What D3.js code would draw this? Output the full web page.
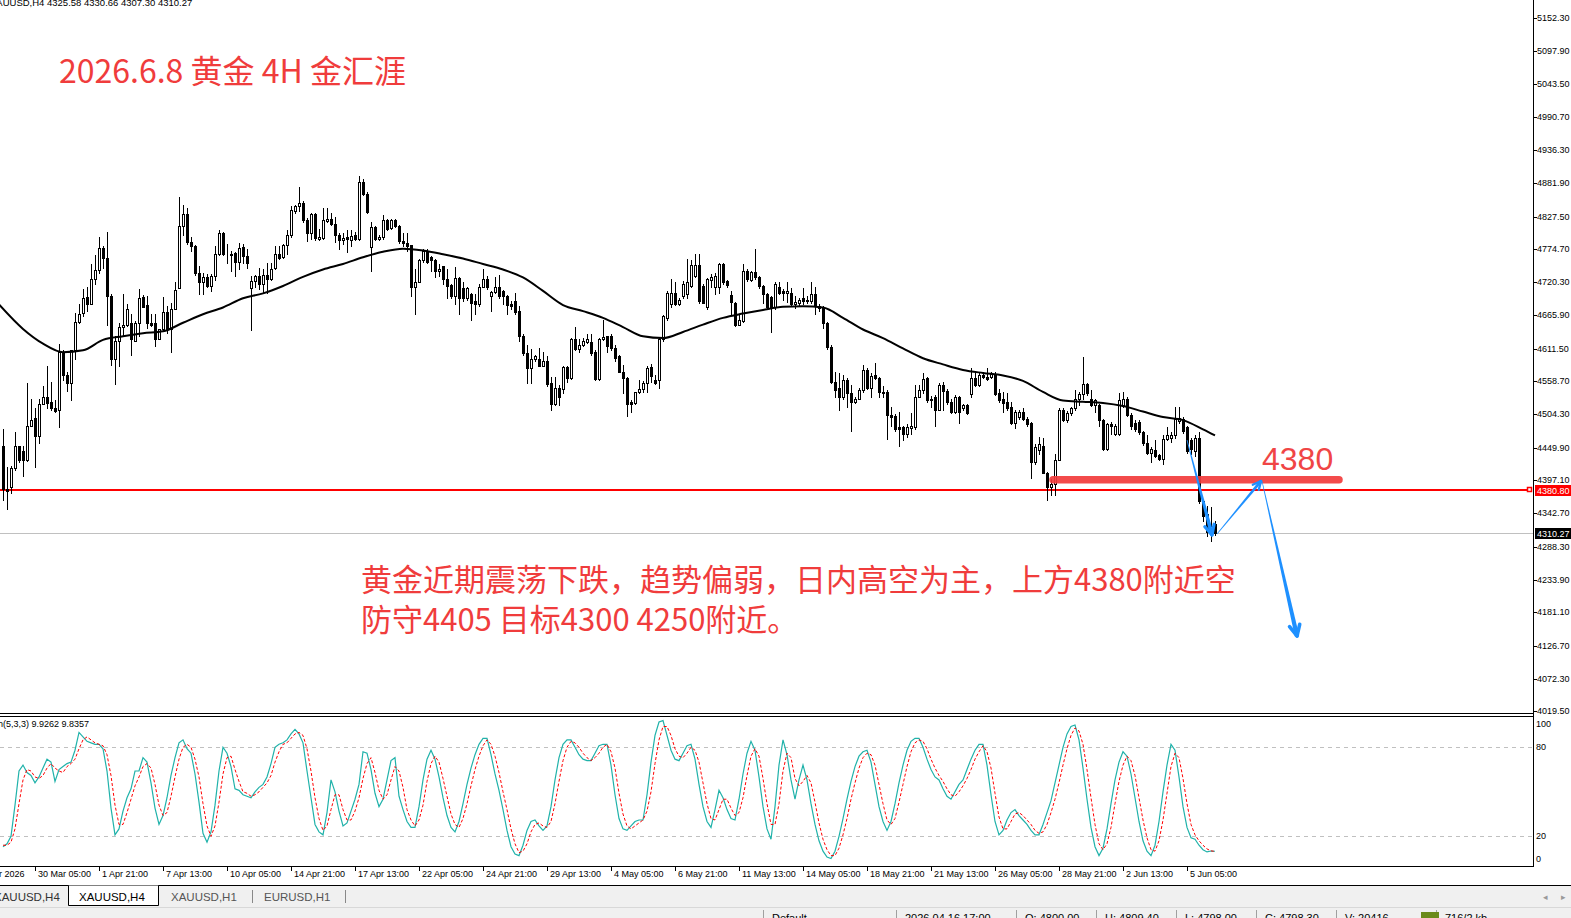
<!DOCTYPE html>
<meta charset="utf-8">
<title>XAUUSD,H4</title>
<style>
  body { margin: 0; background: #fff; }
  svg { display: block; }
</style>
<div id="chart"></div>
<script src="https://cdnjs.cloudflare.com/ajax/libs/d3/7.8.5/d3.min.js"></script>
<script>

// candles, one per 4H bar
var opens = [
4452,4382,4386,4417,4453,4445,4430,4486,4499,4469,
4522,4532,4524,4515,4512,4606,4568,4555,4609,4656,
4670,4696,4684,4725,4740,4776,4759,4698,4595,4624,
4647,4650,4654,4625,4654,4696,4683,4654,4653,4628,
4644,4672,4644,4677,4710,4812,4831,4786,4779,4735,
4721,4728,4714,4731,4766,4801,4766,4766,4768,4753,
4777,4763,4710,4723,4731,4717,4732,4725,4744,4767,
4761,4781,4797,4836,4844,4850,4822,4800,4831,4791,
4792,4820,4824,4816,4798,4790,4794,4790,4797,4791,
4884,4864,4778,4811,4791,4794,4822,4809,4822,4812,
4787,4785,4781,4712,4721,4756,4772,4761,4756,4739,
4746,4725,4716,4698,4727,4710,4695,4701,4690,4684,
4713,4725,4698,4705,4712,4706,4698,4684,4690,4673,
4632,4605,4580,4595,4595,4584,4592,4555,4522,4547,
4545,4581,4563,4627,4611,4618,4622,4622,4607,4562,
4627,4632,4633,4613,4600,4574,4563,4524,4523,4541,
4545,4556,4581,4561,4561,4627,4662,4684,4703,4684,
4698,4701,4714,4731,4748,4714,4679,4724,4712,4712,
4750,4723,4700,4687,4651,4657,4739,4724,4737,4728,
4714,4701,4696,4679,4713,4706,4703,4703,4684,4687,
4694,4691,4690,4701,4681,4680,4654,4614,4558,4547,
4533,4561,4539,4525,4530,4544,4577,4547,4568,4563,
4541,4541,4504,4501,4484,4484,4473,4482,4483,4532,
4544,4563,4528,4533,4512,4552,4543,4525,4508,4533,
4514,4519,4537,4563,4552,4569,4566,4565,4570,4540,
4529,4525,4517,4490,4500,4508,4497,4490,4426,4446,
4452,4409,4385,4390,4430,4511,4495,4506,4514,4529,
4537,4554,4529,4519,4519,4495,4448,4488,4473,4473,
4518,4530,4503,4490,4492,4475,4457,4442,4446,4438,
4431,4464,4466,4470,4494,4497,4483,4462,4445,4466,
4363,4341,4312,4325.58];
var highs = [
4481,4418,4420,4475,4453,4453,4555,4529,4514,4529,
4551,4583,4558,4528,4620,4610,4574,4610,4670,4684,
4709,4712,4750,4765,4794,4780,4803,4701,4632,4654,
4701,4684,4668,4657,4709,4699,4698,4668,4668,4644,
4696,4681,4687,4720,4860,4847,4842,4794,4781,4746,
4735,4734,4734,4780,4805,4802,4783,4772,4769,4785,
4783,4775,4730,4732,4743,4742,4752,4752,4779,4780,
4783,4805,4844,4847,4875,4853,4825,4833,4833,4808,
4841,4841,4833,4827,4800,4800,4805,4805,4802,4893,
4889,4867,4819,4812,4797,4830,4823,4823,4824,4813,
4800,4800,4781,4742,4758,4775,4775,4763,4758,4750,
4747,4742,4717,4745,4728,4720,4712,4702,4701,4717,
4742,4730,4706,4728,4732,4707,4699,4690,4703,4681,
4635,4618,4611,4602,4613,4607,4600,4566,4566,4552,
4584,4584,4629,4647,4628,4629,4636,4636,4610,4629,
4659,4633,4636,4618,4602,4585,4565,4528,4541,4561,
4559,4584,4587,4569,4629,4666,4706,4725,4720,4695,
4723,4758,4756,4767,4767,4717,4727,4734,4736,4752,
4752,4724,4706,4688,4668,4750,4742,4739,4775,4731,
4716,4703,4698,4720,4720,4709,4720,4710,4697,4695,
4710,4698,4720,4712,4684,4681,4655,4618,4574,4572,
4569,4563,4552,4533,4547,4585,4580,4572,4589,4565,
4550,4544,4517,4505,4508,4486,4489,4506,4552,4552,
4572,4566,4534,4536,4555,4558,4545,4530,4536,4534,
4521,4521,4580,4574,4572,4574,4580,4574,4573,4545,
4541,4539,4525,4511,4511,4515,4500,4492,4456,4467,
4466,4411,4398,4440,4515,4514,4510,4517,4544,4541,
4598,4555,4544,4530,4521,4497,4490,4492,4489,4540,
4541,4532,4506,4495,4495,4478,4470,4451,4462,4440,
4470,4484,4475,4516,4517,4500,4486,4466,4470,4475,
4366,4354,4353,4330.66];
var lows = [
4365,4349,4376,4414,4426,4403,4428,4486,4418,4457,
4522,4514,4511,4508,4483,4561,4543,4528,4595,4654,
4665,4673,4684,4717,4736,4743,4651,4585,4554,4583,
4632,4648,4602,4624,4632,4679,4646,4648,4616,4627,
4643,4638,4607,4676,4710,4797,4783,4772,4732,4701,
4701,4713,4706,4724,4765,4765,4752,4739,4731,4742,
4752,4743,4643,4712,4709,4703,4703,4724,4742,4758,
4759,4767,4794,4833,4836,4819,4787,4791,4789,4790,
4791,4819,4813,4786,4775,4783,4769,4779,4790,4789,
4863,4833,4739,4789,4790,4791,4805,4807,4811,4785,
4779,4772,4698,4668,4720,4753,4752,4739,4728,4731,
4717,4695,4695,4684,4668,4690,4692,4659,4668,4681,
4712,4709,4673,4702,4695,4684,4668,4676,4669,4624,
4602,4555,4555,4591,4583,4583,4551,4511,4519,4519,
4539,4558,4562,4610,4607,4616,4621,4602,4561,4560,
4626,4607,4610,4592,4573,4539,4501,4508,4521,4539,
4541,4541,4558,4554,4547,4625,4659,4680,4683,4683,
4695,4695,4712,4728,4687,4686,4677,4712,4701,4703,
4717,4713,4668,4648,4650,4655,4723,4723,4725,4710,
4687,4677,4639,4677,4701,4692,4688,4681,4678,4681,
4684,4686,4687,4668,4673,4646,4611,4556,4533,4512,
4530,4517,4478,4523,4529,4541,4545,4533,4562,4533,
4532,4464,4486,4478,4453,4462,4467,4473,4481,4532,
4539,4525,4517,4486,4511,4511,4522,4506,4507,4490,
4511,4505,4533,4551,4551,4563,4561,4563,4536,4525,
4508,4511,4488,4482,4497,4495,4486,4401,4423,4440,
4408,4365,4373,4373,4429,4493,4492,4503,4512,4519,
4529,4536,4518,4508,4486,4446,4446,4473,4470,4470,
4517,4501,4481,4478,4473,4455,4440,4426,4435,4429,
4423,4463,4460,4466,4490,4474,4442,4440,4437,4360,
4330,4305,4297,4307.30];
var closes = [
4382,4379,4417,4453,4429,4429,4486,4495,4469,4522,
4532,4523,4515,4510,4606,4568,4555,4609,4656,4669,
4694,4684,4725,4740,4776,4759,4698,4595,4624,4647,
4650,4677,4627,4654,4695,4680,4653,4650,4628,4644,
4672,4644,4677,4707,4812,4831,4786,4779,4735,4720,
4728,4714,4731,4766,4801,4766,4767,4765,4753,4776,
4763,4752,4723,4731,4717,4732,4725,4742,4767,4759,
4781,4797,4838,4844,4850,4822,4801,4831,4792,4794,
4822,4824,4816,4797,4790,4792,4791,4796,4791,4884,
4864,4835,4811,4791,4794,4822,4808,4822,4812,4787,
4785,4779,4712,4721,4756,4772,4754,4756,4739,4742,
4725,4714,4698,4727,4695,4695,4710,4687,4684,4713,
4725,4712,4705,4713,4698,4697,4683,4681,4672,4632,
4605,4580,4595,4599,4584,4592,4554,4522,4547,4533,
4581,4563,4627,4611,4618,4624,4628,4605,4562,4627,
4631,4616,4613,4596,4574,4563,4522,4522,4541,4545,
4556,4580,4567,4556,4627,4665,4703,4703,4684,4692,
4717,4720,4748,4748,4690,4687,4725,4728,4731,4750,
4720,4716,4688,4651,4659,4739,4725,4737,4728,4714,
4701,4679,4679,4717,4703,4703,4706,4684,4688,4691,
4690,4690,4701,4681,4678,4653,4614,4558,4544,4533,
4561,4539,4525,4530,4544,4577,4547,4567,4563,4541,
4539,4504,4500,4481,4481,4473,4484,4485,4533,4544,
4562,4528,4530,4512,4552,4543,4525,4508,4533,4508,
4519,4506,4563,4552,4569,4566,4562,4570,4537,4528,
4523,4514,4490,4508,4508,4497,4489,4426,4451,4456,
4409,4386,4391,4430,4511,4495,4507,4514,4530,4537,
4554,4539,4519,4528,4495,4448,4488,4485,4486,4528,
4530,4503,4485,4481,4475,4457,4442,4448,4437,4431,
4464,4470,4470,4496,4498,4477,4445,4448,4466,4363,
4338,4312,4322,4310.27];

// moving average, read every 5 bars
var maIdx = [-1,5,10,15,20,25,30,35,40,45,50,55,60,65,70,75,80,85,90,95,
  100,105,110,115,120,125,130,135,140,145,150,155,160,165,170,175,180,185,190,195,
  200,205,210,215,220,225,230,235,240,245,250,255,260,265,270,275,280,285,290,295,300,303];
var maVal = [4684,4644,4620,4606,4609,4626,4632,4637,4640,4654,
  4668,4679,4694,4702,4714,4729,4741,4750,4761,4770,
  4775,4772,4766,4759,4750,4741,4728,4706,4683,4673,
  4662,4647,4632,4629,4639,4651,4662,4669,4675,4680,
  4681,4679,4662,4643,4629,4612,4596,4586,4577,4572,
  4568,4559,4541,4527,4525,4523,4518,4509,4500,4495,4480,4470];

// Stoch(5,3,3): main line and signal line, one value per bar
var stochK = [
13,15,20,41,64,68,63,61,56,60, 66,72,70,57,65,67,69,70,78,90,
87,84,83,82,82,79,64,39,21,25, 37,46,52,64,64,73,70,56,39,28,
34,46,61,73,83,85,79,76,62,43, 22,16,23,41,64,80,76,67,52,51,
48,47,46,50,53,55,60,69,80,82, 83,85,89,92,89,83,64,46,28,23,
21,36,58,50,37,27,29,37,45,55, 77,76,65,49,40,45,58,71,73,47,
38,30,26,26,40,58,72,78,72,60, 46,34,26,23,30,42,55,66,75,82,
86,86,75,62,51,38,24,13,8,7, 14,24,30,31,27,24,27,40,58,73,
82,85,85,80,75,72,71,71,76,81, 82,82,68,48,32,25,24,27,30,31,
31,48,70,88,97,98,88,78,72,71, 76,81,82,72,55,40,30,26,38,51,
46,38,32,31,45,62,76,84,78,60, 40,25,18,40,68,85,75,58,45,58,
68,58,42,28,17,10,6,5,10,20, 32,45,57,67,74,77,78,70,55,40,
30,24,30,42,56,68,78,84,86,86, 80,72,65,60,58,52,47,45,50,55,
58,65,72,78,82,82,68,48,30,21, 24,31,36,38,34,31,28,24,21,21,
28,36,44,56,68,80,89,94,95,85, 66,45,26,13,7,12,25,42,58,70,
77,74,62,46,30,17,10,7,14,30, 50,68,82,78,60,40,26,19,18,14,
11,9.5,10.1,9.9262];
var stochD = [
14,14,16,25,42,58,65,64,60,59, 61,66,69,66,64,63,67,69,72,79,
85,87,85,83,82,81,75,61,41,28, 28,36,45,54,60,67,69,66,55,41,
34,36,47,60,72,80,82,80,72,60, 42,27,20,27,43,62,73,74,65,57,
50,49,47,48,50,53,56,61,70,77, 82,83,86,89,90,88,79,64,46,32,
24,27,38,48,48,38,31,31,37,46, 59,69,73,63,51,45,48,58,67,64,
53,38,31,27,31,41,57,69,74,70, 59,47,35,28,26,32,42,54,65,74,
81,85,82,74,63,50,38,25,15,9, 10,15,23,28,29,27,26,30,42,57,
71,80,84,83,80,76,73,71,73,76, 80,82,77,66,49,35,27,25,27,29,
31,37,50,69,85,94,94,88,79,74, 73,76,80,78,70,56,42,32,31,38,
45,45,39,34,36,46,61,74,79,74, 59,42,28,28,42,64,76,73,59,54,
57,61,56,43,29,18,11,7,7,12, 21,32,45,56,66,73,76,75,68,55,
42,31,28,32,43,55,67,77,83,85, 84,79,72,66,61,57,52,48,47,50,
54,59,65,72,77,81,77,66,49,33, 25,25,30,35,36,34,31,28,24,22,
23,28,36,45,56,68,79,88,93,91, 82,65,46,28,15,11,15,26,42,57,
68,74,71,61,46,31,19,11,10,17, 31,49,67,76,73,59,42,28,21,17,
14,11.5,10.2,9.8357];

var priceTicks = [5152.30,5097.90,5043.50,4990.70,4936.30,4881.90,4827.50,4774.70,4720.30,4665.90,
  4611.50,4558.70,4504.30,4449.90,4397.10,4342.70,4288.30,4233.90,4181.10,4126.70,4072.30,4019.50];
var stochTicks = [100, 80, 20, 0];
var dateIdx = [-8,8,24,40,56,72,88,104,120,136,152,168,184,200,216,232,248,264,280,296];
var dateLabels = ["26 Mar 2026","30 Mar 05:00","1 Apr 21:00","7 Apr 13:00","10 Apr 05:00","14 Apr 21:00",
  "17 Apr 13:00","22 Apr 05:00","24 Apr 21:00","29 Apr 13:00","4 May 05:00","6 May 21:00","11 May 13:00",
  "14 May 05:00","18 May 21:00","21 May 13:00","26 May 05:00","28 May 21:00","2 Jun 13:00","5 Jun 05:00"];

var lineLevel = 4380.80;
var bidPrice = 4310.27;
var zoneLevel = 4397.5;
var zoneFrom = 261.5, zoneTo = 335;
// [from, to, start width, end width, head length]
var arrows = [
  [[296, 4462.5], [302.25, 4307.3], 0.8, 4, 11],
  [[303.5, 4309], [314.5, 4395.5], 0.6, 3, 9],
  [[314.75, 4395.5], [323.5, 4142.3], 0.6, 4.5, 12]
];

var width = 1571, height = 918;
var axisX = 1533;
var mainTop = 0, mainBottom = 713;
var subTop = 716, subBottom = 866;

var svg = d3.select("#chart").append("svg")
  .attr("width", width)
  .attr("height", height)
  .style("font-family", "'Liberation Sans', Arial, sans-serif");

svg.append("rect").attr("width", width).attr("height", height).attr("fill", "#fff");

var x = d3.scaleLinear().domain([0, 303]).range([3, 1215]);
var y = d3.scaleLinear().domain([4016.5, 5181.3]).range([mainBottom, mainTop]);
var ys = d3.scaleLinear().domain([0, 100]).range([subBottom, 717.6]);

var px = function(i) { return Math.round(x(i)); };

var main = svg.append("g");

// level lines
main.append("line")
  .attr("x1", 0).attr("x2", axisX).attr("y1", Math.round(y(bidPrice)) + 0.5).attr("y2", Math.round(y(bidPrice)) + 0.5)
  .attr("stroke", "#c0c0c0").attr("stroke-width", 1);
main.append("line")
  .attr("x1", 0).attr("x2", axisX - 4).attr("y1", Math.round(y(lineLevel))).attr("y2", Math.round(y(lineLevel)))
  .attr("stroke", "#ff0000").attr("stroke-width", 2);
main.append("rect")
  .attr("x", axisX - 5.5).attr("y", Math.round(y(lineLevel)) - 2.5).attr("width", 4).attr("height", 4)
  .attr("fill", "#fff").attr("stroke", "#ff0000").attr("stroke-width", 1.5);

// candles
var idx = d3.range(opens.length);
var cg = main.append("g").attr("shape-rendering", "crispEdges");
cg.selectAll("line.wick").data(idx).join("line")
  .attr("x1", function(i) { return px(i) + 0.5; })
  .attr("x2", function(i) { return px(i) + 0.5; })
  .attr("y1", function(i) { return Math.round(y(highs[i])); })
  .attr("y2", function(i) { return Math.round(y(lows[i])) + 1; })
  .attr("stroke", "#000");
cg.selectAll("rect.body").data(idx).join("rect")
  .attr("x", function(i) { return px(i) - 0.5; })
  .attr("y", function(i) { return Math.round(y(Math.max(opens[i], closes[i]))) + 0.5; })
  .attr("width", 2)
  .attr("height", function(i) {
    return Math.max(0, Math.round(y(Math.min(opens[i], closes[i]))) - Math.round(y(Math.max(opens[i], closes[i]))));
  })
  .attr("fill", function(i) { return closes[i] >= opens[i] ? "#fff" : "#000"; })
  .attr("stroke", "#000");

// moving average
var maLine = d3.line()
  .x(function(d, k) { return x(maIdx[k]); })
  .y(function(d) { return y(d); })
  .curve(d3.curveMonotoneX);
main.append("path").attr("d", maLine(maVal))
  .attr("fill", "none").attr("stroke", "#000").attr("stroke-width", 2);

// hand drawn zone and arrows
main.append("line")
  .attr("x1", x(zoneFrom) + 4).attr("x2", x(zoneTo) - 4)
  .attr("y1", y(zoneLevel)).attr("y2", y(zoneLevel))
  .attr("stroke", "#f23c3c").attr("stroke-opacity", 0.92)
  .attr("stroke-width", 7.5).attr("stroke-linecap", "round");

function arrow(a) {
  var x0 = x(a[0][0]), y0 = y(a[0][1]), x1 = x(a[1][0]), y1 = y(a[1][1]);
  var w0 = a[2], w1 = a[3], head = a[4];
  var dx = x1 - x0, dy = y1 - y0, len = Math.sqrt(dx * dx + dy * dy);
  var ux = dx / len, uy = dy / len, nx = -uy, ny = ux;
  var pts = [
    [x0 + nx * w0 / 2, y0 + ny * w0 / 2],
    [x1 + nx * w1 / 2, y1 + ny * w1 / 2],
    [x1 - nx * w1 / 2, y1 - ny * w1 / 2],
    [x0 - nx * w0 / 2, y0 - ny * w0 / 2]
  ];
  main.append("polygon").attr("points", pts.map(function(p) { return p.join(","); }).join(" "))
    .attr("fill", "#1e90ff");
  var ang = 0.45;
  [ang, -ang].forEach(function(t) {
    var bx = -(ux * Math.cos(t) - uy * Math.sin(t)), by = -(ux * Math.sin(t) + uy * Math.cos(t));
    main.append("line")
      .attr("x1", x1).attr("y1", y1)
      .attr("x2", x1 + bx * head).attr("y2", y1 + by * head)
      .attr("stroke", "#1e90ff").attr("stroke-width", w1 * 0.8).attr("stroke-linecap", "round");
  });
}
arrows.forEach(arrow);

// texts on chart
main.append("text").attr("x", -10).attr("y", 6)
  .attr("font-size", 9.5).attr("fill", "#000")
  .text("XAUUSD,H4  4325.58 4330.66 4307.30 4310.27");
main.append("text").attr("x", 59).attr("y", 83)
  .attr("font-family", "'Noto Sans CJK SC', sans-serif")
  .attr("font-size", 32).attr("fill", "#f03c3c")
  .text("2026.6.8 黄金 4H 金汇涯");
main.append("text").attr("x", x(314.75)).attr("y", y(4414))
  .attr("font-size", 32).attr("fill", "#f04545")
  .text("4380");
var note = main.append("g")
  .attr("font-family", "'Noto Sans CJK SC', sans-serif")
  .attr("font-size", 31).attr("fill", "#f03c3c");
note.append("text").attr("x", 361).attr("y", 591)
  .text("黄金近期震荡下跌，趋势偏弱，日内高空为主，上方4380附近空");
note.append("text").attr("x", 361).attr("y", 631)
  .text("防守4405 目标4300 4250附近。");

// frames
var fr = svg.append("g").attr("stroke", "#000").attr("shape-rendering", "crispEdges");
fr.append("line").attr("x1", 0).attr("x2", axisX).attr("y1", mainBottom + 0.5).attr("y2", mainBottom + 0.5);
fr.append("line").attr("x1", 0).attr("x2", axisX).attr("y1", subTop + 0.5).attr("y2", subTop + 0.5);
fr.append("line").attr("x1", 0).attr("x2", axisX).attr("y1", subBottom + 0.5).attr("y2", subBottom + 0.5);
fr.append("line").attr("x1", axisX + 0.5).attr("x2", axisX + 0.5).attr("y1", 0).attr("y2", subBottom + 1);

// price axis
var pa = svg.append("g");
pa.selectAll("line").data(priceTicks).join("line")
  .attr("x1", axisX).attr("x2", axisX + 4)
  .attr("y1", function(d) { return Math.round(y(d)) + 0.5; })
  .attr("y2", function(d) { return Math.round(y(d)) + 0.5; })
  .attr("stroke", "#000").attr("shape-rendering", "crispEdges");
pa.selectAll("text").data(priceTicks).join("text")
  .attr("x", axisX + 4).attr("y", function(d) { return y(d) + 3; })
  .attr("font-size", 9).attr("fill", "#000")
  .text(function(d) { return d.toFixed(2); });

function priceBox(p, bg) {
  var yy = Math.round(y(p));
  pa.append("rect").attr("x", axisX + 2).attr("y", yy - 5).attr("width", 40).attr("height", 11).attr("fill", bg);
  pa.append("text").attr("x", axisX + 4).attr("y", yy + 4).attr("font-size", 9).attr("fill", "#fff")
    .text(p.toFixed(2));
}
priceBox(lineLevel, "#ff0000");
priceBox(bidPrice, "#000");

// stochastic window
var sg = svg.append("g");
[80, 20].forEach(function(v) {
  sg.append("line").attr("x1", 0).attr("x2", axisX)
    .attr("y1", Math.round(ys(v)) + 0.5).attr("y2", Math.round(ys(v)) + 0.5)
    .attr("stroke", "#c0c0c0").attr("stroke-dasharray", "4,4");
});
sg.selectAll("text.st").data(stochTicks).join("text")
  .attr("x", axisX + 3)
  .attr("y", function(d) { return d == 100 ? ys(d) + 9 : d == 0 ? ys(d) - 4 : ys(d) + 3; })
  .attr("font-size", 9).attr("fill", "#000")
  .text(function(d) { return d; });

var sLine = d3.line().x(function(d, k) { return x(k); }).y(function(d) { return ys(d); });
sg.append("path").attr("d", sLine(stochK)).attr("fill", "none").attr("stroke", "#20b2aa").attr("stroke-width", 1.2);
sg.append("path").attr("d", sLine(stochD)).attr("fill", "none").attr("stroke", "#ff0000")
  .attr("stroke-width", 1).attr("stroke-dasharray", "3,2");
sg.append("text").attr("x", -20).attr("y", 727).attr("font-size", 9).attr("fill", "#000")
  .text("Stoch(5,3,3) 9.9262 9.8357");

// time axis
var ta = svg.append("g");
ta.selectAll("line").data(dateIdx).join("line")
  .attr("x1", function(i) { return px(i) + 0.5; }).attr("x2", function(i) { return px(i) + 0.5; })
  .attr("y1", subBottom).attr("y2", subBottom + 5)
  .attr("stroke", "#000").attr("shape-rendering", "crispEdges");
ta.selectAll("text").data(dateIdx).join("text")
  .attr("x", function(i) { return px(i) + 3; }).attr("y", 877)
  .attr("font-size", 9).attr("fill", "#000")
  .text(function(i, k) { return dateLabels[k]; });

// tab bar and status bar
var tb = svg.append("g");
tb.append("rect").attr("x", 0).attr("y", 885).attr("width", width).attr("height", 33).attr("fill", "#f0f0f0");
tb.append("line").attr("x1", 0).attr("x2", width).attr("y1", 885.5).attr("y2", 885.5).attr("stroke", "#000");
tb.append("line").attr("x1", 0).attr("x2", width).attr("y1", 907.5).attr("y2", 907.5).attr("stroke", "#d8d8d8");
tb.append("path").attr("d", "M68.5,885.5V905.5H158.5V885.5").attr("fill", "#fff").attr("stroke", "#000");
var tabs = [["XAUUSD,H4", -6, "#333"], ["XAUUSD,H4", 79, "#000"], ["XAUUSD,H1", 171, "#555"], ["EURUSD,H1", 264, "#555"]];
tabs.forEach(function(t) {
  tb.append("text").attr("x", t[1]).attr("y", 901).attr("font-size", 11.5).attr("fill", t[2]).text(t[0]);
});
[252.5, 345.5].forEach(function(s) {
  tb.append("line").attr("x1", s).attr("x2", s).attr("y1", 890).attr("y2", 903).attr("stroke", "#888");
});
tb.append("text").attr("x", 1543).attr("y", 900).attr("font-size", 9).attr("fill", "#999").text("◂");
tb.append("text").attr("x", 1561).attr("y", 900).attr("font-size", 9).attr("fill", "#999").text("▸");
var statusItems = [["Default", 772], ["2026.04.16 17:00", 905], ["O: 4800.00", 1025], ["H: 4809.40", 1105],
  ["L: 4798.00", 1185], ["C: 4798.30", 1265], ["V: 20416", 1345], ["716/2 kb", 1445]];
statusItems.forEach(function(s) {
  tb.append("text").attr("x", s[1]).attr("y", 922).attr("font-size", 11).attr("fill", "#000").text(s[0]);
  tb.append("line").attr("x1", s[1] - 8.5).attr("x2", s[1] - 8.5).attr("y1", 910).attr("y2", 918).attr("stroke", "#a0a0a0");
});
tb.append("rect").attr("x", 1421).attr("y", 912).attr("width", 18).attr("height", 6).attr("fill", "#6a8a1a");

</script>
